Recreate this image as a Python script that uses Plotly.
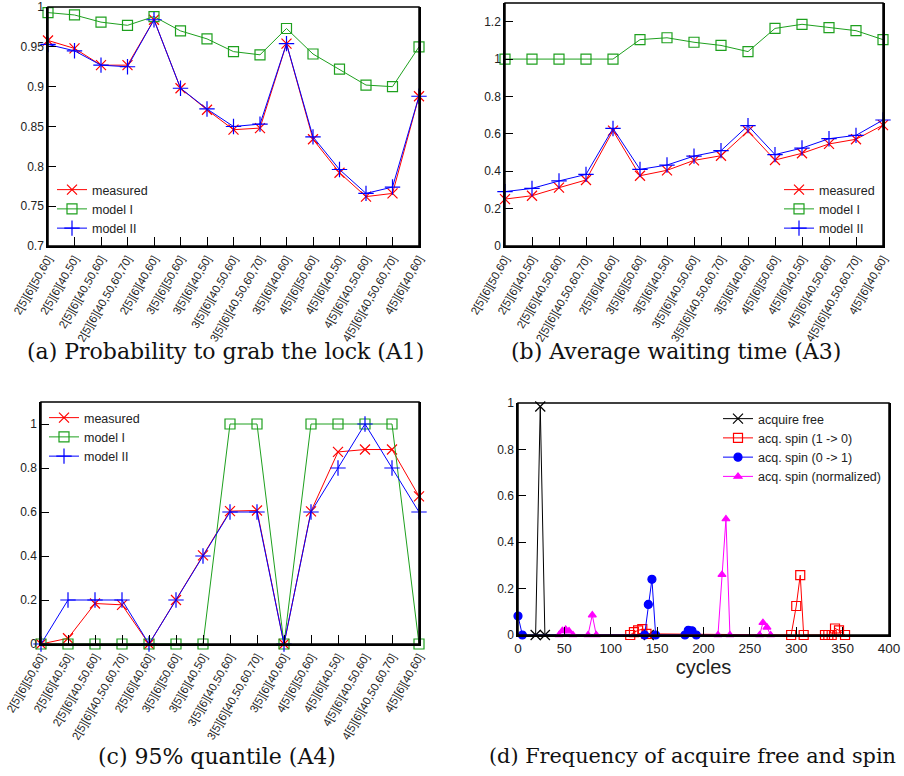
import plotly.graph_objects as go

categories = ["2[5][6][50,60]", "2[5][6][40,50]", "2[5][6][40,50,60]", "2[5][6][40,50,60,70]",
              "2[5][6][40,60]", "3[5][6][50,60]", "3[5][6][40,50]", "3[5][6][40,50,60]",
              "3[5][6][40,50,60,70]", "3[5][6][40,60]", "4[5][6][50,60]", "4[5][6][40,50]",
              "4[5][6][40,50,60]", "4[5][6][40,50,60,70]", "4[5][6][40,60]"]

a_measured = [0.958, 0.948, 0.927, 0.927, 0.984, 0.898, 0.871, 0.846, 0.848, 0.954, 0.834, 0.792, 0.762, 0.766, 0.888]
a_model1 = [0.993, 0.990, 0.981, 0.977, 0.988, 0.970, 0.960, 0.944, 0.940, 0.973, 0.941, 0.922, 0.902, 0.900, 0.950]
a_model2 = [0.953, 0.945, 0.927, 0.925, 0.984, 0.898, 0.872, 0.850, 0.853, 0.954, 0.837, 0.796, 0.766, 0.774, 0.888]

b_measured = [0.251, 0.269, 0.312, 0.353, 0.617, 0.376, 0.405, 0.458, 0.483, 0.615, 0.460, 0.496, 0.546, 0.571, 0.647]
b_model1 = [1.0, 1.0, 1.0, 1.0, 1.0, 1.104, 1.114, 1.090, 1.073, 1.040, 1.164, 1.186, 1.168, 1.152, 1.104]
b_model2 = [0.291, 0.308, 0.348, 0.383, 0.629, 0.410, 0.433, 0.481, 0.510, 0.644, 0.489, 0.524, 0.574, 0.592, 0.674]

c_measured = [0, 0.026, 0.184, 0.178, 0, 0.2, 0.403, 0.604, 0.607, 0, 0.603, 0.873, 0.884, 0.884, 0.671]
c_model1 = [0, 0, 0, 0, 0, 0, 0, 1, 1, 0, 1, 1, 1, 1, 0]
c_model2 = [0, 0.2, 0.2, 0.2, 0, 0.2, 0.4, 0.6, 0.6, 0, 0.6, 0.8, 1.0, 0.8, 0.6]

d_free_x = [19, 24, 29, 141]
d_free_y = [0, 0.985, 0, 0]
d_spin10_x = [121, 125, 129.5, 134, 138.5, 294.5, 300, 304.3, 308, 331, 334.6, 338.2, 341.8, 346.1, 352.6]
d_spin10_y = [0, 0.012, 0.02, 0.025, 0.005, 0, 0.125, 0.258, 0, 0, 0, 0, 0.028, 0.02, 0]
d_spin01_x = [0, 4.7, 136.5, 140.5, 144.4, 148.4, 180, 183.6, 187.6, 192.2]
d_spin01_y = [0.082, 0, 0, 0.132, 0.24, 0, 0, 0.02, 0.018, 0]
d_norm_x = [44.2, 47.8, 51.4, 55, 59.3, 75.5, 80.1, 84.4, 215.6, 219.9, 224.2, 228.5, 260.5, 264.1, 268.4, 272.4]
d_norm_y = [0, 0.018, 0.024, 0.017, 0, 0, 0.086, 0, 0, 0.26, 0.5, 0, 0, 0.053, 0.033, 0]

captions = ["(a) Probability to grab the lock (A1)", "(b) Average waiting time (A3)",
            "(c) 95% quantile (A4)", "(d) Frequency of acquire free and spin"]
series_names = ["measured", "model I", "model II"]

RED = "#ff0000"
GREEN = "#1ea01e"
BLUE = "#0000ff"
MAG = "#ff00ff"
BLACK = "#000000"
SANS = "Liberation Sans, Arial, sans-serif"
SERIF = "DejaVu Serif, serif"

W, H = 904, 776
xi = list(range(len(categories)))

fig = go.Figure()

sym = {"measured": ("x-thin-open", RED, 10), "model I": ("square-open", GREEN, 10),
       "model II": ("cross-thin-open", BLUE, 11)}


def add_cat(ax, lg, vals):
    for name, v in zip(series_names, vals):
        s, c, sz = sym[name]
        fig.add_trace(go.Scatter(
            x=xi, y=v, mode="lines+markers", name=name,
            line=dict(color=c, width=1),
            marker=dict(symbol=s, size=sz, color=c, line=dict(color=c, width=1.2)),
            xaxis="x" + ax, yaxis="y" + ax, legend=lg, cliponaxis=False))


add_cat("", "legend", [a_measured, a_model1, a_model2])
add_cat("2", "legend2", [b_measured, b_model1, b_model2])
add_cat("3", "legend3", [c_measured, c_model1, c_model2])

d_series = [
    ("acquire free", d_free_x, d_free_y, "x-thin-open", BLACK, 10),
    ("acq. spin (1 -> 0)", d_spin10_x, d_spin10_y, "square-open", RED, 9),
    ("acq. spin (0 -> 1)", d_spin01_x, d_spin01_y, "circle", BLUE, 8),
    ("acq. spin (normalized)", d_norm_x, d_norm_y, "triangle-up", MAG, 7),
]
for name, x, y, s, c, sz in d_series:
    fig.add_trace(go.Scatter(
        x=x, y=y, mode="lines+markers", name=name,
        line=dict(color=c, width=1),
        marker=dict(symbol=s, size=sz, color=c, line=dict(color=c, width=1.2)),
        xaxis="x4", yaxis="y4", legend="legend4", cliponaxis=False))


def px_x(p):
    return p / W


def px_y(p):
    return 1 - p / H


dom = {
    "1": ([px_x(48), px_x(419)], [px_y(246), px_y(7)]),
    "2": ([px_x(505), px_x(883)], [px_y(246), px_y(3)]),
    "3": ([px_x(41), px_x(419)], [px_y(644), px_y(402)]),
    "4": ([px_x(518), px_x(889)], [px_y(635), px_y(403)]),
}

axcommon = dict(showline=True, linecolor=BLACK, linewidth=1.5, showgrid=False, zeroline=False,
                ticks="inside", tickcolor=BLACK, tickwidth=1, ticklen=8, automargin=False,
                ticklabeloverflow="allow",
                tickfont=dict(family=SANS, size=12, color="#222222"))

layout = dict(width=W, height=H, margin=dict(l=0, r=0, t=0, b=0, autoexpand=False),
              paper_bgcolor="white", plot_bgcolor="white", showlegend=True)

for k in ["1", "2", "3"]:
    sx = "" if k == "1" else k
    layout["xaxis" + sx] = dict(axcommon, domain=dom[k][0], anchor="y" + sx, range=[0, 14],
                                tickvals=xi, ticktext=categories, tickangle=-60, mirror=False,
                                ticklen=9, tickfont=dict(family=SANS, size=11.3, color="#222222"))
layout["yaxis"] = dict(axcommon, domain=dom["1"][1], anchor="x", range=[0.7, 1.0], dtick=0.05,
                       mirror=True)
layout["yaxis2"] = dict(axcommon, domain=dom["2"][1], anchor="x2", range=[0, 1.3], dtick=0.2,
                        mirror=True)
layout["yaxis3"] = dict(axcommon, domain=dom["3"][1], anchor="x3", range=[0, 1.1], dtick=0.2,
                        mirror=True)
layout["xaxis4"] = dict(axcommon, domain=dom["4"][0], anchor="y4", range=[0, 400], dtick=50,
                        mirror=False, tickfont=dict(family=SANS, size=13.5, color="#222222"),
                        title=dict(text="cycles", font=dict(family=SANS, size=20, color="#222222"),
                                   standoff=2))
layout["yaxis4"] = dict(axcommon, domain=dom["4"][1], anchor="x4", range=[0, 1], dtick=0.2,
                        mirror=True)

legfont = dict(family=SANS, size=12.5, color="#222222")
legbase = dict(bgcolor="rgba(0,0,0,0)", borderwidth=0, font=legfont, itemwidth=30,
               tracegroupgap=0, itemclick=False)
layout["legend"] = dict(legbase, x=px_x(52), xanchor="left", y=px_y(243), yanchor="bottom")
layout["legend2"] = dict(legbase, x=px_x(880), xanchor="right", y=px_y(243), yanchor="bottom")
layout["legend3"] = dict(legbase, x=px_x(44), xanchor="left", y=px_y(403), yanchor="top")
layout["legend4"] = dict(legbase, x=px_x(886), xanchor="right", y=px_y(404), yanchor="top")

shapes = []
for k in ["", "2", "3", "4"]:
    shapes.append(dict(type="rect", xref="x" + k + " domain", yref="y" + k + " domain",
                       x0=0, x1=1, y0=0, y1=1, line=dict(color=BLACK, width=1.5),
                       fillcolor="rgba(0,0,0,0)", layer="above"))
layout["shapes"] = shapes

cap_pos = [(225, 352, 22), (676, 352, 22), (217, 756, 22), (692, 756, 20.8)]
annotations = []
for txt, (cx, cy, fs) in zip(captions, cap_pos):
    annotations.append(dict(text=txt, x=px_x(cx), y=px_y(cy), xref="paper", yref="paper",
                            xanchor="center", yanchor="middle", showarrow=False,
                            font=dict(family=SERIF, size=fs, color="#111111")))
layout["annotations"] = annotations

fig.update_layout(**layout)
fig.write_html("out.html", config={"displayModeBar": False},
               post_script="document.body.style.margin='0';document.body.style.padding='0';")
